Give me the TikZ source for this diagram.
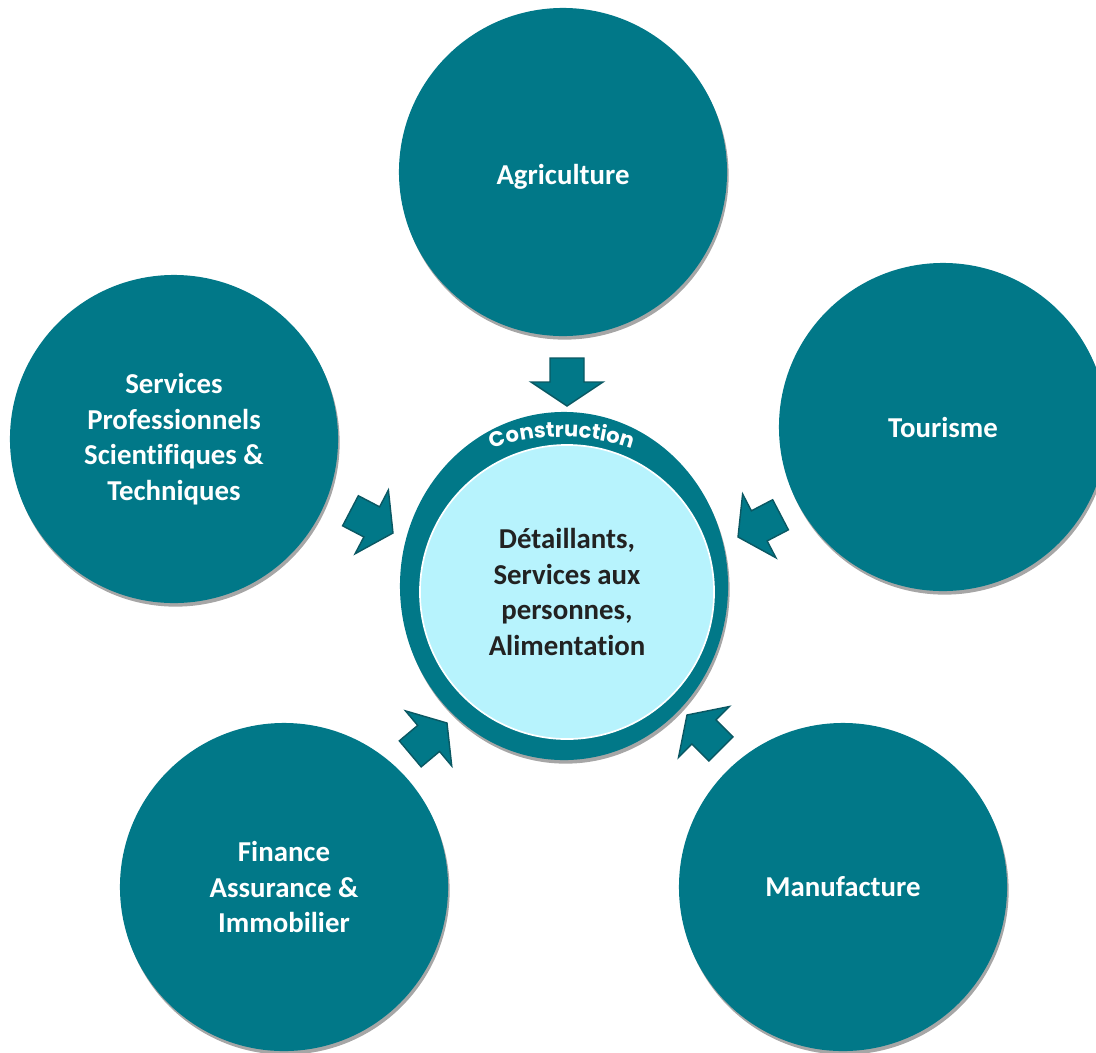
\documentclass[tikz,border=0pt]{standalone}
\usepackage{fontspec}
\setmainfont{Carlito}[Ligatures=CommonOff]
\newfontfamily\ringfont{Poppins}
\usetikzlibrary{shapes.geometric,shadows,decorations.text}

\definecolor{sectorteal}{RGB}{1,120,136}
\definecolor{arrowedge}{RGB}{10,88,99}
\definecolor{corefill}{RGB}{183,243,253}
\definecolor{coretext}{RGB}{34,34,34}

\tikzset{
  softshadow/.style={drop shadow={shadow xshift=0.04cm, shadow yshift=-0.09cm, fill=black!35, opacity=1}},
  sector/.style={circle, fill=sectorteal, minimum size=8.2cm, inner sep=0pt, align=center,
    text=white, font=\bfseries\fontsize{20.5}{25.2}\selectfont, softshadow},
  % block arrow, tip at the origin, pointing along +x
  pics/inflow/.style={code={
    \draw[fill=sectorteal, draw=arrowedge, line width=1pt, line join=miter]
      (0,0) -- (-24,36) -- (-24,17) -- (-48,17) -- (-48,-17) -- (-24,-17) -- (-24,-36) -- cycle;
  }}
}

\begin{document}
\begin{tikzpicture}[x=0.025cm, y=-0.025cm]
  \useasboundingbox (0,0) rectangle (1096,1052);
  \clip (0,0) rectangle (1096,1052);

  % outer sectors
  \node[sector] (agri) at (563,172) {\raisebox{-9pt}[0pt][0pt]{Agriculture}};
  \node[sector] (tour) at (943,427) {Tourisme};
  \node[sector] (serv) at (174,439) {Services\\Professionnels\\Scientifiques \&\\Techniques};
  \node[sector] (fin)  at (284,887) {Finance\\Assurance \&\\Immobilier};
  \node[sector] (manu) at (843,887) {Manufacture};

  % centre: ring and core
  \node[ellipse, fill=sectorteal, minimum width=8.2cm, minimum height=8.7cm, softshadow] (ring) at (564,586) {};
  \node[circle, fill=corefill, draw=white, line width=1.2pt, minimum size=7.35cm, inner sep=0pt,
    align=center, text=coretext, font=\bfseries\fontsize{20.5}{25.2}\selectfont] (core) at (567,592)
    {D\'etaillants,\\Services aux\\personnes,\\Alimentation};

  % curved label on the ring
  \begin{scope}[shift={(562,653)}, x=1cm, y=1cm]
    \path[decorate, decoration={text along path, text align=center, text color=white,
      text={|\ringfont\bfseries\fontsize{15}{15}\selectfont|Construction}}]
      (115:5.4) arc[start angle=115, end angle=65, radius=5.4];
  \end{scope}

  % arrows into the centre
  \pic[rotate=-90]   at (567,406) {inflow};
  \pic[rotate=-27.6] at (393,533) {inflow};
  \pic[rotate=207.6] at (738,537) {inflow};
  \pic[rotate=40]    at (447,723) {inflow};
  \pic[rotate=135]   at (687,715) {inflow};
\end{tikzpicture}
\end{document}
